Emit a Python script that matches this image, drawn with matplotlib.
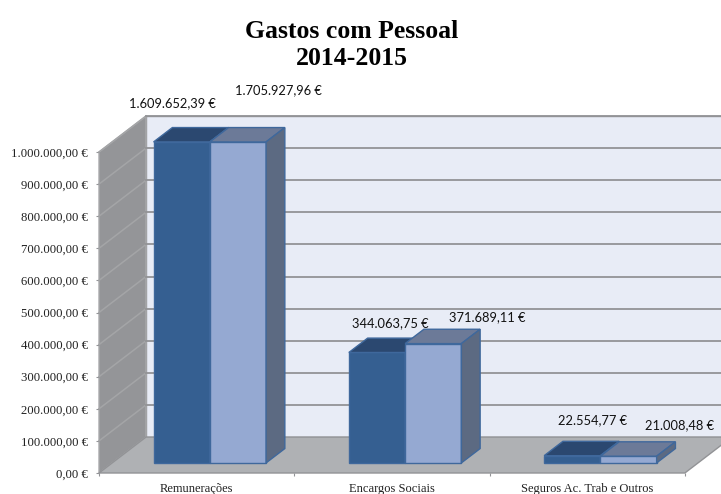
import matplotlib
matplotlib.use("Agg")
import matplotlib.pyplot as plt
from matplotlib.patches import Polygon
from matplotlib.ticker import FuncFormatter

# Data ====================================================
categories = ["Remunerações", "Encargos Sociais", "Seguros Ac. Trab e Outros"]
gastos_2014 = [1609652.39, 344063.75, 22554.77]
gastos_2015 = [1705927.96, 371689.11, 21008.48]
y_ticks = [0, 100000, 200000, 300000, 400000, 500000, 600000, 700000, 800000, 900000, 1000000]

# label offsets from the top of each bar, in points
offsets_2014 = [(-7, 28), (9.5, 21.3), (14.5, 25.7)]
offsets_2015 = [(29, 37), (39, 19.3), (36.5, 22.4)]

# Style ===================================================
W, H = 721, 494
Y_MAX = 1000000
X_MAX = 2.685
DEPTH_X = 0.2407      # depth of the whole floor in category units
DEPTH_Y = 112000      # same, in value units
BAR_W = 0.288
BAR_START = 0.28      # where bars sit on the floor (fraction of depth)
BAR_DEPTH = 0.40

EDGE = "#3f689c"
GRID = "#929396"


def money(v):
    s = "{:,.2f}".format(v).replace(",", "X").replace(".", ",").replace("X", ".")
    return s + " €"


def deep(x, y, frac):
    """Move a front plane point back by frac of the floor depth."""
    return (x + DEPTH_X * frac, y + DEPTH_Y * frac)


def face(ax, pts, color, z, edge=EDGE):
    ax.add_patch(Polygon(pts, closed=True, facecolor=color, edgecolor=edge,
                         linewidth=1.0, zorder=z, clip_on=False))


def draw_walls(ax):
    x0, x1 = -0.5, X_MAX + 0.5
    back = [deep(x0, 0, 1), deep(x1, 0, 1), deep(x1, Y_MAX, 1), deep(x0, Y_MAX, 1)]
    face(ax, back, "#e8ecf6", 1, edge=GRID)
    left = [(x0, 0), deep(x0, 0, 1), deep(x0, Y_MAX, 1), (x0, Y_MAX)]
    face(ax, left, "#949598", 1, edge="#a9aaac")
    floor_end = 2.5
    floor = [(x0, 0), (floor_end, 0), deep(floor_end, 0, 1), deep(x1, 0, 1), deep(x0, 0, 1)]
    face(ax, floor, "#afb1b4", 2, edge=GRID)

    for t in y_ticks[1:]:
        ax.plot([x0, deep(x0, 0, 1)[0]], [t, deep(x0, t, 1)[1]], color="#a4a5a7", lw=1.1, zorder=2, clip_on=False)
        ax.plot([deep(x0, 0, 1)[0], x1], [deep(x0, t, 1)[1]] * 2, color=GRID, lw=1.3, zorder=2, clip_on=False)


def draw_bar(ax, left, value, front, top, side, z):
    """Draw one fake 3D bar from its value, clipped at the top of the axis."""
    h = min(value, Y_MAX)
    x, base = deep(left, 0, BAR_START)
    ax.bar(x, h, BAR_W, bottom=base, align="edge", color=front, edgecolor=EDGE,
           linewidth=1.0, zorder=z, clip_on=False)
    p1 = (x, base + h)
    p2 = (x + BAR_W, base + h)
    face(ax, [p1, p2, deep(p2[0], p2[1], BAR_DEPTH), deep(p1[0], p1[1], BAR_DEPTH)], top, z)
    p3 = (x + BAR_W, base)
    face(ax, [p3, p2, deep(p2[0], p2[1], BAR_DEPTH), deep(p3[0], p3[1], BAR_DEPTH)], side, z)
    return x + BAR_W / 2, base + h


def main():
    fig = plt.figure(figsize=(W / 100, H / 100), dpi=100)
    ax = fig.add_axes([99 / W, (H - 473) / H, 622 / W, 321 / H])
    ax.set_xlim(-0.5, X_MAX)
    ax.set_ylim(0, Y_MAX)
    ax.patch.set_visible(False)
    for name in ax.spines:
        ax.spines[name].set_visible(False)

    draw_walls(ax)

    for i in range(len(categories)):
        c1 = draw_bar(ax, i - BAR_W, gastos_2014[i], "#355f91", "#2b4870", "#2b4870", 4)
        c2 = draw_bar(ax, i, gastos_2015[i], "#95a9d2", "#6c7a98", "#5c6a82", 5)
        ax.annotate(money(gastos_2014[i]), c1, xytext=offsets_2014[i], textcoords="offset points",
                    ha="center", va="center", fontsize=9.3, family="Lato", color="#111111", zorder=8,
                    annotation_clip=False)
        ax.annotate(money(gastos_2015[i]), c2, xytext=offsets_2015[i], textcoords="offset points",
                    ha="center", va="center", fontsize=9.3, family="Lato", color="#111111", zorder=8,
                    annotation_clip=False)

    ax.set_yticks(y_ticks)
    ax.yaxis.set_major_formatter(FuncFormatter(lambda v, pos: money(v)))
    ax.tick_params(axis="y", length=2.5, width=0.8, color=GRID, pad=5.5, labelsize=9.2, labelcolor="#222222")
    ax.set_xticks(range(len(categories)))
    ax.set_xticklabels(categories)
    ax.set_xticks([-0.5, 0.5, 1.5, 2.5], minor=True)
    ax.tick_params(axis="x", which="major", length=0, pad=7, labelsize=9.0, labelcolor="#222222")
    ax.tick_params(axis="x", which="minor", length=2.5, width=0.8, color=GRID)
    for lab in ax.get_yticklabels() + ax.get_xticklabels():
        lab.set_family("Liberation Serif")

    fig.text(352 / W, 1 - 45 / H, "Gastos com Pessoal\n2014-2015", ha="center", va="center",
             family="Liberation Serif", fontweight="bold", fontsize=18.5, linespacing=1.26, color="black")

    fig.savefig("out.png", dpi=100)


if __name__ == "__main__":
    main()
